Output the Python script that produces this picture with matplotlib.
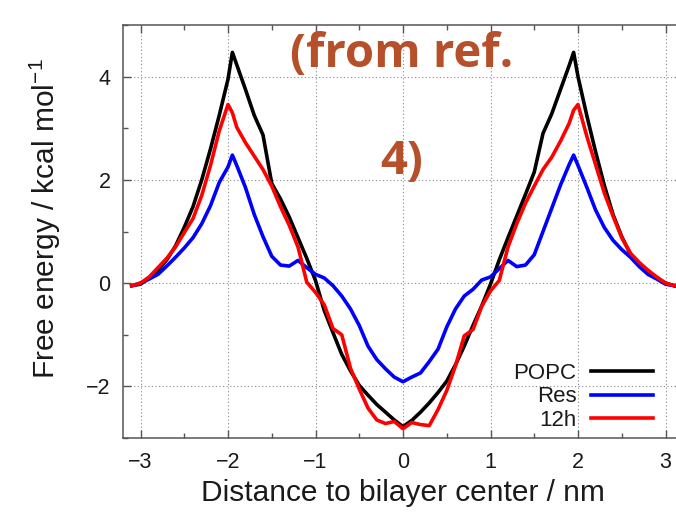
import matplotlib
matplotlib.use("Agg")
import matplotlib.pyplot as plt
from matplotlib.ticker import MultipleLocator

plt.rcParams['font.family'] = ['Liberation Sans', 'DejaVu Sans']
plt.rcParams['mathtext.default'] = 'regular'

# ---------------- data ----------------
x_nm = [-3.1, -3.0, -2.9, -2.8, -2.7, -2.6, -2.5, -2.4, -2.3, -2.2, -2.1, -2.0, -1.95,
        -1.9, -1.8, -1.7, -1.6, -1.5, -1.4, -1.3, -1.2, -1.1, -1.0, -0.9, -0.8, -0.7,
        -0.6, -0.5, -0.4, -0.3, -0.2, -0.1, 0.0,
        0.1, 0.2, 0.3, 0.4, 0.5, 0.6, 0.7, 0.8, 0.9, 1.0, 1.1, 1.2, 1.3, 1.4, 1.5,
        1.6, 1.7, 1.8, 1.9, 1.95, 2.0, 2.1, 2.2, 2.3, 2.4, 2.5, 2.6, 2.7, 2.8, 2.9,
        3.0, 3.1]

popc = [-0.05, -0.02, 0.10, 0.25, 0.45, 0.72, 1.08, 1.48, 2.00, 2.60, 3.25, 3.95, 4.47,
        4.23, 3.75, 3.25, 2.87, 1.93, 1.63, 1.28, 0.88, 0.48, 0.05, -0.53, -0.96, -1.38,
        -1.70, -1.98, -2.17, -2.35, -2.50, -2.65, -2.78,
        -2.66, -2.50, -2.32, -2.12, -1.90, -1.58, -1.22, -0.82, -0.44, -0.02, 0.45,
        0.88, 1.30, 1.72, 2.15, 2.90, 3.28, 3.75, 4.22, 4.47, 4.00, 3.25, 2.55, 1.90,
        1.33, 0.90, 0.56, 0.38, 0.23, 0.10, 0.00, -0.05]

res = [-0.05, 0.00, 0.08, 0.17, 0.33, 0.50, 0.68, 0.88, 1.15, 1.50, 1.95, 2.25, 2.48,
       2.28, 1.85, 1.33, 0.90, 0.52, 0.35, 0.33, 0.44, 0.30, 0.17, 0.10, -0.05, -0.25,
       -0.50, -0.82, -1.22, -1.48, -1.66, -1.82, -1.91,
       -1.82, -1.74, -1.52, -1.28, -0.85, -0.50, -0.25, -0.12, 0.06, 0.12, 0.28,
       0.44, 0.32, 0.35, 0.55, 1.00, 1.45, 1.90, 2.30, 2.48, 2.28, 1.86, 1.42, 1.08,
       0.83, 0.65, 0.50, 0.32, 0.17, 0.08, -0.02, -0.05]

h12 = [-0.05, 0.00, 0.12, 0.30, 0.48, 0.70, 0.98, 1.25, 1.70, 2.28, 2.95, 3.46, 3.30,
       3.02, 2.72, 2.46, 2.20, 1.88, 1.48, 1.12, 0.70, 0.02, -0.18, -0.42, -0.88, -1.00,
       -1.65, -2.05, -2.42, -2.65, -2.72, -2.68, -2.82,
       -2.70, -2.74, -2.76, -2.45, -2.08, -1.60, -1.02, -0.90, -0.45, -0.15, 0.05,
       0.70, 1.15, 1.55, 1.88, 2.20, 2.44, 2.75, 3.10, 3.35, 3.46, 2.85, 2.30, 1.75,
       1.30, 0.88, 0.58, 0.40, 0.25, 0.12, 0.00, -0.05]

series_labels = ["POPC", "Res", "12h"]
series_colors = ["#000000", "#0000FF", "#FF0000"]
x_ticks = [-3, -2, -1, 0, 1, 2, 3]
y_ticks = [-2, 0, 2, 4]

# ---------------- figure ----------------
fig = plt.figure(figsize=(6.76, 5.21), dpi=100)
ax = fig.add_axes([123 / 676, 83 / 521, 560 / 676, 413 / 521])

for yv, lab, col in zip([popc, res, h12], series_labels, series_colors):
    ax.plot(x_nm, yv, color=col, lw=2.6, label=lab, solid_joinstyle='round')

ax.set_xlim(-3.2, 3.2)
ax.set_ylim(-3, 5)
ax.set_xticks(x_ticks)
ax.set_yticks(y_ticks)
ax.xaxis.set_minor_locator(MultipleLocator(0.5))
ax.yaxis.set_minor_locator(MultipleLocator(1))

ax.grid(True, which='major', linestyle=(0, (1, 2.2)), color='#8a8a8a', lw=0.8)
ax.set_axisbelow(True)

for s in ax.spines.values():
    s.set_color('#555555')
    s.set_linewidth(1.1)

ax.tick_params(which='both', direction='in', top=True, right=True, colors='#555555',
               labelcolor='#1a1a1a', labelsize=15.5)
ax.tick_params(which='major', length=6, width=1)
ax.tick_params(which='minor', length=3.5, width=1)
ax.tick_params(axis='x', pad=10)
ax.tick_params(axis='y', pad=9)

ax.set_xlabel("Distance to bilayer center / nm", fontsize=21.5, color='#1a1a1a')
ax.xaxis.set_label_coords(0.5, -0.1)
ax.set_ylabel("Free energy / kcal mol$^{-1}$", fontsize=21.5, color='#1a1a1a')
ax.yaxis.set_label_coords(-0.108, 0.53)

leg = ax.legend(loc='lower right', bbox_to_anchor=(653 / 676, (521 - 431) / 521),
                bbox_transform=fig.transFigure, frameon=False, markerfirst=False,
                fontsize=16, handlelength=2.8, handletextpad=0.65, labelspacing=0.12,
                borderpad=0, borderaxespad=0)
for t in leg.get_texts():
    t.set_color('#1a1a1a')

fig.text(401.5 / 676, 1 - 67 / 521, "(from ref.", ha='center', va='baseline',
         fontsize=34, fontweight='bold', family=['Open Sans', 'DejaVu Sans'],
         color='#B5502A')
fig.text(402 / 676, 1 - 174 / 521, "4)", ha='center', va='baseline',
         fontsize=34, fontweight='bold', family=['Open Sans', 'DejaVu Sans'],
         color='#B5502A')

fig.savefig("out.png", dpi=100)
